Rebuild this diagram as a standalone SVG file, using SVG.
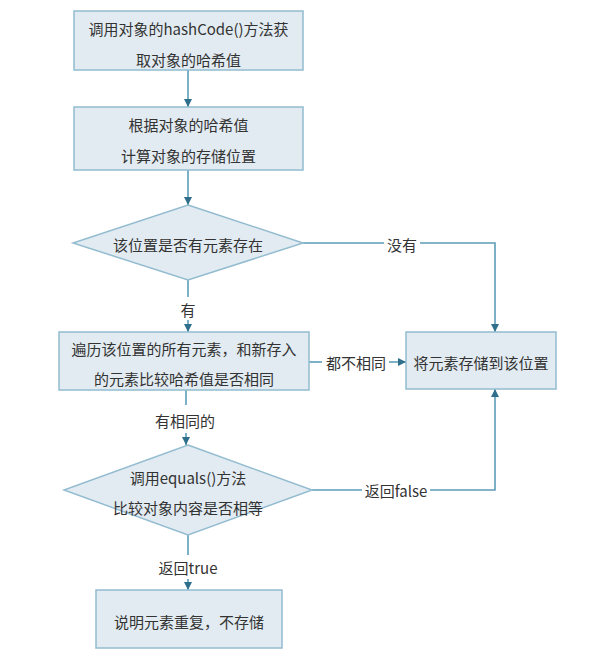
<svg xmlns="http://www.w3.org/2000/svg" width="595" height="653" viewBox="0 0 595 653">
<style>
.box{fill:#e2ebf1;stroke:#93bcd0;stroke-width:1.5}
.ln{fill:none;stroke:#5d9cb8;stroke-width:1.6}
text{font-family:"Noto Sans CJK SC","Noto Sans",sans-serif;font-size:15px;fill:#333;text-anchor:middle;dominant-baseline:central}
</style>
<defs>
<marker id="arr" viewBox="0 0 10 10" refX="10" refY="5" markerWidth="5" markerHeight="5" orient="auto">
<path d="M0,0 L10,5 L0,10 Z" fill="#2f6f8c"/>
</marker>
</defs>
<rect width="595" height="653" fill="#fff"/>
<g id="connectors">
<line class="ln" x1="188" y1="70" x2="188" y2="107" marker-end="url(#arr)"/>
<line class="ln" x1="188" y1="170" x2="188" y2="205" marker-end="url(#arr)"/>
<line class="ln" x1="188" y1="280" x2="188" y2="297"/>
<line class="ln" x1="188" y1="320" x2="188" y2="332" marker-end="url(#arr)"/>
<polyline class="ln" points="303,243 384,243"/>
<polyline class="ln" points="420,243 495,243 495,332" marker-end="url(#arr)"/>
<line class="ln" x1="309" y1="362" x2="322" y2="362"/>
<line class="ln" x1="389" y1="362" x2="406" y2="362" marker-end="url(#arr)"/>
<line class="ln" x1="186" y1="390" x2="186" y2="405"/>
<line class="ln" x1="186" y1="433" x2="186" y2="445" marker-end="url(#arr)"/>
<polyline class="ln" points="312,490 362,490"/>
<polyline class="ln" points="430,490 495,490 495,389" marker-end="url(#arr)"/>
<line class="ln" x1="188" y1="535" x2="188" y2="555"/>
<line class="ln" x1="188" y1="579" x2="188" y2="590" marker-end="url(#arr)"/>
<text x="402" y="244">没有</text>
<text x="188" y="309">有</text>
<text x="356" y="362">都不相同</text>
<text x="185" y="420">有相同的</text>
<text x="396" y="490">返回false</text>
<text x="188" y="567">返回true</text>
</g>
<g id="n1">
<rect class="box" x="74" y="11" width="229" height="59"/>
<text x="188.5" y="28">调用对象的hashCode()方法获</text>
<text x="188.5" y="59">取对象的哈希值</text>
</g>
<g id="n2">
<rect class="box" x="74" y="107" width="229" height="63"/>
<text x="188.5" y="124">根据对象的哈希值</text>
<text x="188.5" y="155">计算对象的存储位置</text>
</g>
<g id="n3">
<polygon class="box" points="188,205 303,243 188,280 73,243"/>
<text x="188" y="244">该位置是否有元素存在</text>
</g>
<g id="n4">
<rect class="box" x="59" y="332" width="250" height="58"/>
<text x="184" y="348">遍历该位置的所有元素，和新存入</text>
<text x="184" y="378">的元素比较哈希值是否相同</text>
</g>
<g id="n5">
<rect class="box" x="406" y="332" width="150" height="57"/>
<text x="481" y="362">将元素存储到该位置</text>
</g>
<g id="n6">
<polygon class="box" points="188,445 312,490 188,535 64,490"/>
<text x="188" y="477">调用equals()方法</text>
<text x="188" y="507">比较对象内容是否相等</text>
</g>
<g id="n7">
<rect class="box" x="96" y="590" width="186" height="58"/>
<text x="189" y="621">说明元素重复，不存储</text>
</g>
</svg>
